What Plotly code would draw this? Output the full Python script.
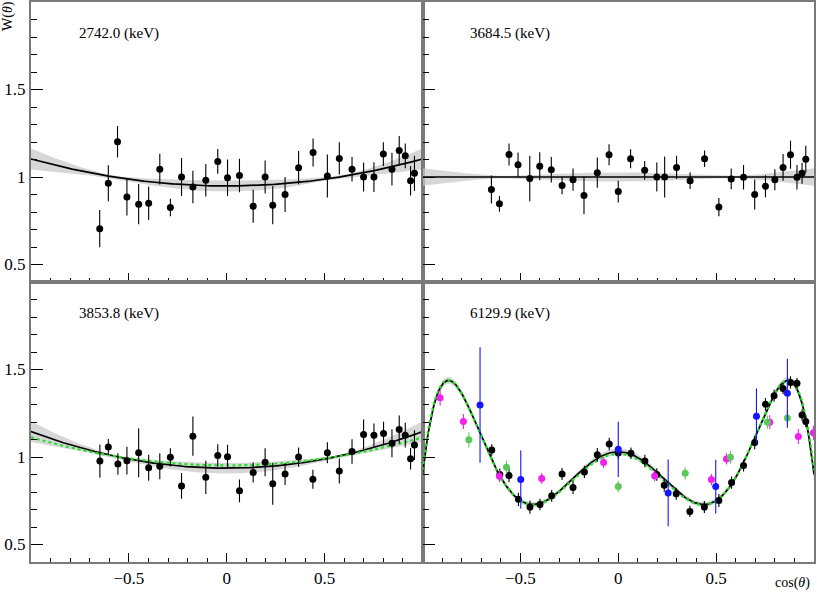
import numpy as np
from numpy.polynomial import legendre as L
import plotly.graph_objects as go

# ---------------- data ----------------
labels = ["2742.0 (keV)", "3684.5 (keV)", "3853.8 (keV)", "6129.9 (keV)"]

# 2742.0 keV
p1_x = [-0.649, -0.605, -0.558, -0.510, -0.450, -0.399, -0.342, -0.288, -0.231, -0.173,
        -0.107, -0.046, 0.004, 0.065, 0.135, 0.196, 0.235, 0.298, 0.367, 0.441,
        0.514, 0.575, 0.640, 0.699, 0.752, 0.800, 0.844, 0.881, 0.912, 0.939, 0.959]
p1_y = [0.705, 0.964, 1.201, 0.886, 0.845, 0.850, 1.045, 0.826, 1.000, 0.943,
        0.981, 1.089, 0.996, 1.009, 0.833, 1.000, 0.839, 0.900, 1.053, 1.140,
        1.006, 1.106, 1.045, 1.000, 1.000, 1.131, 1.045, 1.152, 1.121, 0.979, 1.021]
p1_e = [0.107, 0.103, 0.090, 0.106, 0.115, 0.096, 0.088, 0.050, 0.108, 0.093,
        0.093, 0.071, 0.104, 0.096, 0.094, 0.094, 0.109, 0.100, 0.095, 0.080,
        0.123, 0.092, 0.070, 0.083, 0.085, 0.068, 0.094, 0.083, 0.071, 0.084, 0.101]

# 3684.5 keV
p2_x = [-0.648, -0.607, -0.558, -0.512, -0.452, -0.401, -0.342, -0.287, -0.231, -0.175,
        -0.107, -0.047, 0.000, 0.063, 0.135, 0.197, 0.237, 0.298, 0.367, 0.441,
        0.514, 0.577, 0.640, 0.697, 0.752, 0.800, 0.842, 0.880, 0.913, 0.939, 0.958]
p2_y = [0.928, 0.847, 1.129, 1.070, 0.992, 1.062, 1.042, 0.951, 0.985, 0.894,
        1.025, 1.127, 0.917, 1.104, 1.038, 1.000, 1.000, 1.055, 0.979, 1.104,
        0.828, 0.989, 0.998, 0.900, 0.947, 0.985, 1.055, 1.127, 0.998, 1.021, 1.102]
p2_e = [0.080, 0.045, 0.063, 0.070, 0.130, 0.080, 0.073, 0.050, 0.063, 0.107,
        0.086, 0.060, 0.062, 0.054, 0.054, 0.083, 0.117, 0.066, 0.048, 0.047,
        0.052, 0.059, 0.070, 0.086, 0.063, 0.060, 0.076, 0.080, 0.070, 0.060, 0.076]

# 3853.8 keV
p3_x = [-0.648, -0.605, -0.556, -0.510, -0.450, -0.399, -0.342, -0.288, -0.231, -0.173,
        -0.107, -0.046, 0.004, 0.065, 0.135, 0.196, 0.235, 0.298, 0.367, 0.440,
        0.514, 0.575, 0.640, 0.699, 0.752, 0.801, 0.844, 0.881, 0.912, 0.939, 0.959]
p3_y = [0.977, 1.057, 0.960, 0.979, 1.025, 0.939, 0.947, 0.998, 0.835, 1.119,
        0.884, 1.009, 1.002, 0.807, 0.911, 0.970, 0.847, 0.903, 1.000, 0.873,
        1.025, 0.920, 1.032, 1.129, 1.125, 1.134, 1.078, 1.157, 1.125, 0.990, 1.068]
p3_e = [0.095, 0.046, 0.062, 0.079, 0.140, 0.074, 0.074, 0.052, 0.073, 0.112,
        0.095, 0.064, 0.068, 0.065, 0.057, 0.080, 0.120, 0.063, 0.055, 0.054,
        0.060, 0.071, 0.070, 0.085, 0.066, 0.067, 0.080, 0.080, 0.071, 0.062, 0.085]

# 6129.9 keV : black set
p4_x = [-0.646, -0.605, -0.558, -0.510, -0.451, -0.400, -0.340, -0.287, -0.231, -0.173,
        -0.107, -0.046, 0.000, 0.065, 0.136, 0.197, 0.235, 0.296, 0.366, 0.440,
        0.514, 0.579, 0.640, 0.697, 0.752, 0.796, 0.842, 0.880, 0.913, 0.939, 0.958]
p4_y = [1.040, 0.900, 0.894, 0.758, 0.714, 0.729, 0.778, 0.903, 0.826, 0.915,
        1.013, 1.074, 1.023, 1.021, 0.977, 0.900, 0.839, 0.790, 0.689, 0.714,
        0.752, 0.854, 0.951, 1.083, 1.301, 1.350, 1.392, 1.426, 1.422, 1.240, 1.203]
p4_e = [0.033, 0.035, 0.038, 0.038, 0.038, 0.033, 0.034, 0.034, 0.038, 0.035,
        0.038, 0.036, 0.034, 0.033, 0.036, 0.036, 0.037, 0.034, 0.032, 0.034,
        0.037, 0.035, 0.034, 0.038, 0.036, 0.035, 0.033, 0.035, 0.030, 0.033, 0.033]
# 6129.9 keV : magenta set
p4m_x = [-0.910, -0.791, -0.607, -0.391, -0.075, 0.186, 0.476, 0.553, 0.774, 0.920, 0.997]
p4m_y = [1.339, 1.203, 0.890, 0.877, 0.968, 0.892, 0.871, 0.989, 1.199, 1.117, 1.138]
p4m_e = [0.045, 0.043, 0.033, 0.031, 0.031, 0.030, 0.032, 0.032, 0.040, 0.043, 0.041]
# 6129.9 keV : green set
p4g_x = [-0.763, -0.571, 0.000, 0.342, 0.573, 0.762, 0.864]
p4g_y = [1.098, 0.941, 0.831, 0.907, 0.998, 1.199, 1.223]
p4g_e = [0.043, 0.038, 0.033, 0.035, 0.036, 0.038, 0.040]
# 6129.9 keV : blue set
p4b_x = [-0.706, -0.498, 0.000, 0.255, 0.498, 0.706, 0.864]
p4b_y = [1.297, 0.871, 1.044, 0.795, 0.831, 1.233, 1.364]
p4b_e = [0.330, 0.166, 0.158, 0.190, 0.154, 0.158, 0.197]

# Legendre coefficients of the fitted W(theta) = a0 + a2 P2 + a4 P4 + a6 P6
fit1 = [1.000, 0.103]
fit2 = [1.000, 0.000]
fit3 = [1.0057, 0.1394]
fit3_alt = [1.0047, 0.1073]
fit4 = [1.002, 0.3608, 0.0926, -0.5554]
fit4_alt = [1.000, 0.375, 0.095, -0.545]
# uncertainty band terms (s0, s2, s4, s6)
band1 = [0.008, 0.060]
band2 = [0.006, 0.050]
band3 = [0.008, 0.058]
band4 = [0.010, 0.022, 0.022, 0.025]

x_ticks = [-0.5, 0, 0.5]
x_tick_text = ["\u22120.5", "0", "0.5"]
y_ticks = [0.5, 1, 1.5]
y_tick_text = ["0.5", "1", "1.5"]

# ---------------- helpers ----------------
def even_coefs(c):
    out = []
    for v in c:
        out += [v, 0.0]
    return out[:-1]

def wfun(x, c):
    return L.legval(x, even_coefs(c))

def band_hw(x, s):
    tot = np.zeros_like(x)
    for k, sv in enumerate(s):
        ck = [0.0] * (k + 1)
        ck[k] = 1.0
        tot += (sv * L.legval(x, even_coefs(ck))) ** 2
    return np.sqrt(tot)

FONT = '"Liberation Serif", "Times New Roman", Times, serif'
xs = np.linspace(-1, 1, 401)

fig = go.Figure()

def add_panel(k, fit, band, alt=None):
    xa = "x" if k == 1 else f"x{k}"
    ya = "y" if k == 1 else f"y{k}"
    w = wfun(xs, fit)
    hw = band_hw(xs, band)
    fig.add_trace(go.Scatter(x=np.concatenate([xs, xs[::-1]]),
                             y=np.concatenate([w + hw, (w - hw)[::-1]]),
                             fill="toself", fillcolor="rgba(200,200,200,0.72)",
                             line=dict(width=0), mode="lines", hoverinfo="skip",
                             showlegend=False, xaxis=xa, yaxis=ya))
    fig.add_trace(go.Scatter(x=xs, y=w, mode="lines", line=dict(color="black", width=1.7),
                             showlegend=False, xaxis=xa, yaxis=ya))
    if alt is not None:
        fig.add_trace(go.Scatter(x=xs, y=wfun(xs, alt), mode="lines",
                                 line=dict(color="#22e022", width=2.2, dash="dot"),
                                 showlegend=False, xaxis=xa, yaxis=ya))

def add_points(k, x, y, e, color):
    xa = "x" if k == 1 else f"x{k}"
    ya = "y" if k == 1 else f"y{k}"
    fig.add_trace(go.Scatter(x=x, y=y, mode="markers",
                             marker=dict(color=color, size=7),
                             error_y=dict(type="data", array=e, visible=True,
                                          color=color, thickness=1.1, width=0),
                             showlegend=False, xaxis=xa, yaxis=ya))

add_panel(1, fit1, band1)
add_points(1, p1_x, p1_y, p1_e, "black")
add_panel(2, fit2, band2)
add_points(2, p2_x, p2_y, p2_e, "black")
add_panel(3, fit3, band3, fit3_alt)
add_points(3, p3_x, p3_y, p3_e, "black")
add_panel(4, fit4, band4, fit4_alt)
add_points(4, p4_x, p4_y, p4_e, "black")
add_points(4, p4m_x, p4m_y, p4m_e, "#f020f0")
add_points(4, p4g_x, p4g_y, p4g_e, "#5cc85c")
add_points(4, p4b_x, p4b_y, p4b_e, "#1515ff")

domains = {1: ([0, 0.5], [0.5, 1]), 2: ([0.5, 1], [0.5, 1]),
           3: ([0, 0.5], [0, 0.5]), 4: ([0.5, 1], [0, 0.5])}
layout_axes = {}
for k, (dx, dy) in domains.items():
    sfx = "" if k == 1 else str(k)
    layout_axes[f"xaxis{sfx}"] = dict(
        domain=dx, range=[-1, 1], anchor="y" if k == 1 else f"y{k}",
        showgrid=False, zeroline=False, showline=True, mirror=True,
        linecolor="#7a7a7a", linewidth=2,
        ticks="inside", ticklen=9, tickwidth=1, tickcolor="black",
        tickmode="array", tickvals=x_ticks, ticktext=x_tick_text,
        showticklabels=(k in (3, 4)),
        tickfont=dict(family=FONT, size=17, color="black"),
        minor=dict(ticks="inside", ticklen=4, tickwidth=1, tickcolor="black",
                   tickmode="linear", tick0=0, dtick=0.1, showgrid=False),
    )
    layout_axes[f"yaxis{sfx}"] = dict(
        domain=dy, range=[0.4, 2.0], anchor="x" if k == 1 else f"x{k}",
        showgrid=False, zeroline=False, showline=True, mirror=True,
        linecolor="#7a7a7a", linewidth=2,
        ticks="inside", ticklen=12, tickwidth=1, tickcolor="black",
        tickmode="array", tickvals=y_ticks, ticktext=y_tick_text,
        showticklabels=(k in (1, 3)),
        tickfont=dict(family=FONT, size=17, color="black"),
        minor=dict(ticks="inside", ticklen=6, tickwidth=1, tickcolor="black",
                   tickmode="linear", tick0=0, dtick=0.1, showgrid=False),
    )

annotations = []
label_pos = [(0.0587, 0.944), (0.558, 0.944), (0.0587, 0.443), (0.558, 0.443)]
for txt, (ax, ay) in zip(labels, label_pos):
    annotations.append(dict(text=txt, x=ax, y=ay, xref="paper", yref="paper",
                            xanchor="left", yanchor="middle", showarrow=False,
                            font=dict(family=FONT, size=15, color="black")))
annotations.append(dict(text="W(<i>\u03b8</i>)", x=-0.0294, y=1, xref="paper", yref="paper",
                        xanchor="center", yanchor="top", yshift=3, textangle=-90,
                        showarrow=False, font=dict(family=FONT, size=14, color="black")))
annotations.append(dict(text="cos(<i>\u03b8</i>)", x=0.973, y=-0.0374, xref="paper", yref="paper",
                        xanchor="center", yanchor="middle", showarrow=False,
                        font=dict(family=FONT, size=14, color="black")))

fig.update_layout(width=817, height=592, margin=dict(l=31, r=3, t=0, b=30),
                  paper_bgcolor="white", plot_bgcolor="white",
                  annotations=annotations, **layout_axes)

fig.write_html("out.html", config={"displayModeBar": False},
               post_script="document.body.style.margin='0';document.body.style.padding='0';"
                           "document.body.style.overflow='hidden';")
